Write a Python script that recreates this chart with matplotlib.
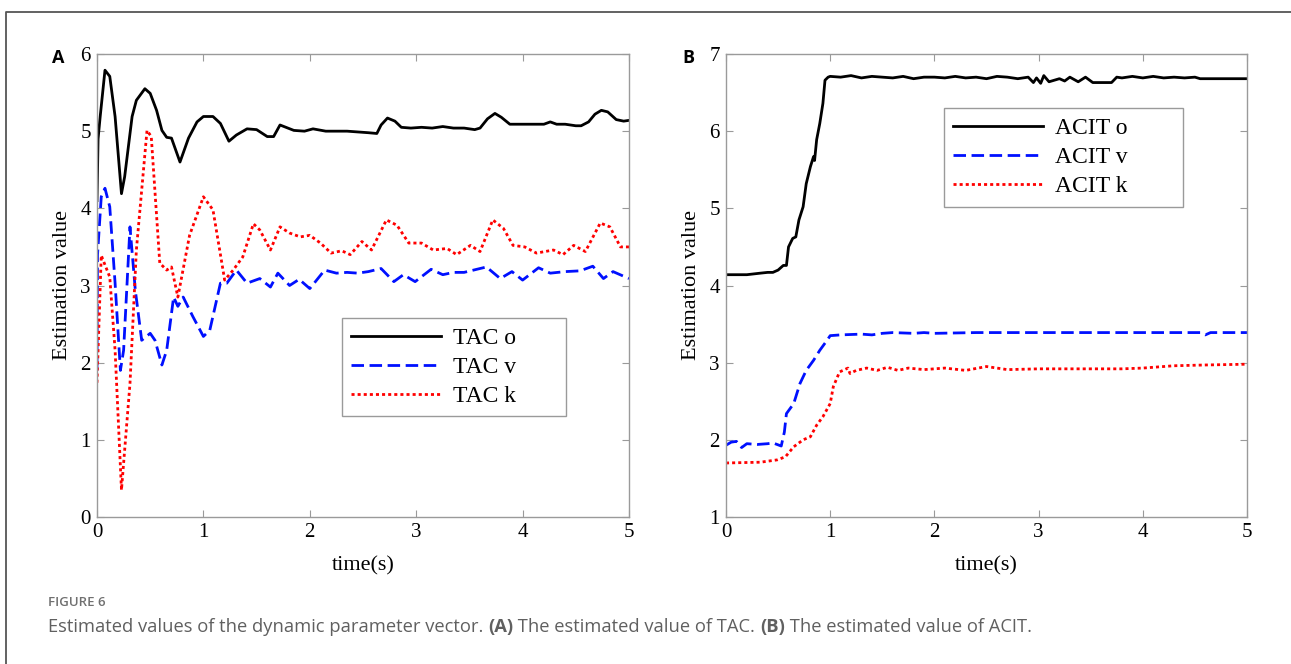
import numpy as np
import matplotlib.pyplot as plt
from matplotlib.lines import Line2D

# ---- data ----
# panel A (TAC)
ta_o = [0, 0.01, 0.03, 0.075, 0.12, 0.17, 0.23, 0.26, 0.33, 0.37,
        0.45, 0.5, 0.56, 0.61, 0.655, 0.70, 0.78, 0.86, 0.94, 1.0,
        1.09, 1.16, 1.24, 1.31, 1.41, 1.5, 1.6, 1.66, 1.72, 1.85,
        1.95, 2.03, 2.15, 2.25, 2.35, 2.45, 2.55, 2.63, 2.67, 2.73,
        2.8, 2.86, 2.95, 3.05, 3.15, 3.25, 3.35, 3.45, 3.55, 3.6,
        3.67, 3.74, 3.8, 3.88, 4.0, 4.1, 4.2, 4.26, 4.32, 4.4,
        4.5, 4.55, 4.62, 4.68, 4.74, 4.8, 4.88, 4.95, 5.0]
va_o = [4.1, 4.9, 5.19, 5.79, 5.71, 5.19, 4.19, 4.41, 5.19, 5.4,
        5.55, 5.49, 5.27, 5.01, 4.92, 4.91, 4.6, 4.91, 5.12, 5.19,
        5.19, 5.1, 4.87, 4.95, 5.03, 5.02, 4.93, 4.93, 5.08, 5.01,
        5.0, 5.03, 5.0, 5.0, 5.0, 4.99, 4.98, 4.97, 5.08, 5.17,
        5.13, 5.05, 5.04, 5.05, 5.04, 5.06, 5.04, 5.04, 5.02, 5.04,
        5.16, 5.23, 5.18, 5.09, 5.09, 5.09, 5.09, 5.12, 5.09, 5.09,
        5.07, 5.07, 5.12, 5.22, 5.27, 5.25, 5.15, 5.13, 5.14]

ta_v = [0, 0.005, 0.04, 0.075, 0.12, 0.17, 0.22, 0.25, 0.31, 0.36,
        0.42, 0.5, 0.545, 0.61, 0.655, 0.72, 0.76, 0.81, 0.9, 1.0,
        1.06, 1.16, 1.22, 1.31, 1.41, 1.53, 1.63, 1.7, 1.81, 1.9,
        2.0, 2.14, 2.25, 2.35, 2.45, 2.55, 2.67, 2.79, 2.88, 2.99,
        3.14, 3.25, 3.35, 3.45, 3.54, 3.66, 3.79, 3.9, 4.0, 4.15,
        4.26, 4.4, 4.54, 4.66, 4.76, 4.85, 5.0]
va_v = [1.9, 3.4, 4.15, 4.26, 4.02, 3.03, 1.9, 2.16, 3.76, 2.94,
        2.29, 2.38, 2.29, 1.97, 2.16, 2.85, 2.73, 2.85, 2.6, 2.34,
        2.42, 3.03, 3.03, 3.2, 3.03, 3.09, 2.98, 3.16, 3.0, 3.08,
        2.96, 3.2, 3.16, 3.17, 3.16, 3.18, 3.22, 3.05, 3.14, 3.05,
        3.21, 3.14, 3.17, 3.17, 3.2, 3.24, 3.09, 3.18, 3.07, 3.23,
        3.16, 3.18, 3.19, 3.25, 3.09, 3.18, 3.09]

ta_k = [0, 0.04, 0.12, 0.17, 0.23, 0.31, 0.37, 0.47, 0.51, 0.59,
        0.655, 0.70, 0.76, 0.87, 1.0, 1.09, 1.2, 1.28, 1.37, 1.47,
        1.53, 1.63, 1.72, 1.81, 1.91, 2.0, 2.1, 2.2, 2.3, 2.38,
        2.49, 2.58, 2.72, 2.82, 2.93, 3.05, 3.16, 3.29, 3.38, 3.51,
        3.6, 3.72, 3.82, 3.91, 4.02, 4.13, 4.29, 4.38, 4.48, 4.59,
        4.73, 4.82, 4.92, 5.0]
va_k = [1.74, 3.39, 3.11, 2.16, 0.35, 1.73, 3.46, 5.01, 4.93, 3.29,
        3.2, 3.24, 2.85, 3.65, 4.15, 3.98, 3.07, 3.2, 3.37, 3.8,
        3.72, 3.46, 3.76, 3.68, 3.63, 3.65, 3.55, 3.42, 3.45, 3.4,
        3.57, 3.46, 3.85, 3.78, 3.55, 3.55, 3.46, 3.48, 3.4, 3.52,
        3.44, 3.85, 3.74, 3.52, 3.5, 3.42, 3.46, 3.4, 3.52, 3.44,
        3.81, 3.76, 3.5, 3.5]

# panel B (ACIT)
tb_o = [0, 0.1, 0.2, 0.33, 0.4, 0.45, 0.5, 0.55, 0.58, 0.6,
        0.64, 0.67, 0.7, 0.74, 0.77, 0.81, 0.84, 0.85, 0.87, 0.9,
        0.93, 0.95, 0.98, 1.0,
        1.1, 1.2, 1.3, 1.4, 1.5, 1.6, 1.7, 1.8, 1.9, 2.0,
        2.1, 2.2, 2.3, 2.4, 2.5, 2.6, 2.7, 2.8, 2.9,
        2.95, 2.98, 3.02, 3.05, 3.1, 3.2, 3.25, 3.3, 3.38, 3.45, 3.52, 3.55,
        3.7, 3.75, 3.8, 3.9, 4.0, 4.1, 4.2, 4.3, 4.4, 4.5, 4.55, 4.7, 4.85, 5.0]
vb_o = [4.14, 4.14, 4.14, 4.16, 4.17, 4.17, 4.2, 4.26, 4.26, 4.5,
        4.61, 4.63, 4.85, 5.02, 5.32, 5.54, 5.67, 5.62, 5.89, 6.1,
        6.36, 6.66, 6.7, 6.71,
        6.7, 6.72, 6.69, 6.71, 6.7, 6.69, 6.71, 6.68, 6.7, 6.7,
        6.69, 6.71, 6.69, 6.7, 6.68, 6.71, 6.7, 6.68, 6.7,
        6.63, 6.69, 6.62, 6.72, 6.64, 6.68, 6.65, 6.7, 6.64, 6.7, 6.63, 6.63,
        6.63, 6.7, 6.69, 6.71, 6.69, 6.71, 6.69, 6.7, 6.69, 6.7, 6.68, 6.68, 6.68, 6.68]

tb_v = [0, 0.05, 0.1, 0.15, 0.2, 0.3, 0.4, 0.45, 0.53, 0.56,
        0.58, 0.65, 0.71, 0.77, 0.84, 0.9, 0.97, 1.0, 1.1, 1.3,
        1.4, 1.5, 1.6, 1.8, 1.9, 2.0, 2.4, 3.0, 4.0, 4.55,
        4.6, 4.65, 5.0]
vb_v = [1.93, 1.97, 1.98, 1.9, 1.95, 1.94, 1.95, 1.96, 1.92, 2.1,
        2.34, 2.47, 2.73, 2.9, 3.03, 3.16, 3.29, 3.35, 3.36, 3.37,
        3.36, 3.38, 3.39, 3.38, 3.39, 3.38, 3.39, 3.39, 3.39, 3.39,
        3.36, 3.39, 3.39]

tb_k = [0, 0.33, 0.49, 0.57, 0.65, 0.74, 0.81, 0.87, 0.93, 1.0,
        1.03, 1.09, 1.17, 1.19, 1.25, 1.35, 1.45, 1.55, 1.65, 1.75,
        1.9, 2.1, 2.3, 2.5, 2.7, 3.0, 3.4, 3.8, 4.0, 4.3,
        4.6, 5.0]
vb_k = [1.7, 1.71, 1.74, 1.78, 1.91, 2.0, 2.04, 2.19, 2.3, 2.47,
        2.69, 2.88, 2.93, 2.86, 2.9, 2.93, 2.9, 2.94, 2.9, 2.93,
        2.91, 2.93, 2.9, 2.95, 2.91, 2.92, 2.92, 2.92, 2.93, 2.96,
        2.97, 2.98]

x_ticks = [0, 1, 2, 3, 4, 5]
ya_ticks = [0, 1, 2, 3, 4, 5, 6]
yb_ticks = [1, 2, 3, 4, 5, 6, 7]

W, H = 1291, 664
plt.rcParams['font.family'] = ['Liberation Serif', 'DejaVu Serif']

fig = plt.figure(figsize=(W / 100, H / 100), dpi=100)

solid = dict(color='black', lw=2.0, linestyle='-')
dash = dict(color='#0010ff', lw=2.0, linestyle=(0, (4.5, 2)))
dot = dict(color='#ff0000', lw=2.0, linestyle=(0, (1.1, 1.1)))


def style_axes(ax, yticks):
    ax.set_xlim(0, 5)
    ax.set_ylim(yticks[0], yticks[-1])
    ax.set_xticks(x_ticks)
    ax.set_yticks(yticks)
    for s in ax.spines.values():
        s.set_color('#9a9a9a')
        s.set_linewidth(1.0)
    ax.tick_params(direction='in', top=True, right=True, length=5,
                   width=0.8, color='#9a9a9a', labelsize=15, pad=4.5)
    ax.set_xlabel('time(s)', fontsize=16, labelpad=10)
    ax.set_ylabel('Estimation value', fontsize=16, labelpad=6)


def add_legend(ax, box):
    # box = (left, bottom, width, top) in axes coords; expand to full width
    ax.legend(loc='upper left', bbox_to_anchor=(box[0], 0.0, box[2], box[3]),
              mode='expand', borderaxespad=0,
              fontsize=17, handlelength=3.8, labelspacing=0.32, handletextpad=0.5,
              fancybox=False, edgecolor='#9a9a9a', framealpha=1, borderpad=0.4)


axA = fig.add_axes([97 / W, 1 - 517 / H, 532 / W, 463 / H])
axA.plot(ta_o, va_o, label='TAC o', **solid)
axA.plot(ta_v, va_v, label='TAC v', **dash)
axA.plot(ta_k, va_k, label='TAC k', **dot)
style_axes(axA, ya_ticks)
add_legend(axA, (0.4605, 0.0, 0.421, 0.43))

axB = fig.add_axes([726 / W, 1 - 517 / H, 521 / W, 463 / H])
axB.plot(tb_o, vb_o, label='ACIT o', **solid)
axB.plot(tb_v, vb_v, label='ACIT v', **dash)
axB.plot(tb_k, vb_k, label='ACIT k', **dot)
style_axes(axB, yb_ticks)
add_legend(axB, (0.418, 0.0, 0.459, 0.883))

# panel letters
fig.text(58 / W, 1 - 58 / H, 'A', family='Open Sans', fontweight='bold',
         fontsize=13, ha='center', va='center')
fig.text(688 / W, 1 - 58 / H, 'B', family='Open Sans', fontweight='bold',
         fontsize=13, ha='center', va='center')

# outer frame (top and left edges)
fig.add_artist(Line2D([6 / W, 6 / W, 1.0], [0.0, 1 - 12 / H, 1 - 12 / H],
                      transform=fig.transFigure, color='#555555', lw=1.3))

# caption
fig.text(48 / W, 1 - 603 / H, 'FIGURE 6', family='Open Sans', fontweight='semibold',
         fontsize=9.5, color='#707070', va='center')
r = fig.canvas.get_renderer()
parts = [('Estimated values of the dynamic parameter vector. ', 'normal'),
         ('(A)', 'bold'),
         (' The estimated value of TAC. ', 'normal'),
         ('(B)', 'bold'),
         (' The estimated value of ACIT.', 'normal')]
x = 48 / W
for txt, wt in parts:
    t = fig.text(x, 1 - 627 / H, txt, family='Open Sans', fontweight=wt,
                 fontsize=13.2, color='#606060', va='center')
    x += t.get_window_extent(r).width / W

fig.savefig('out.png', dpi=100)
